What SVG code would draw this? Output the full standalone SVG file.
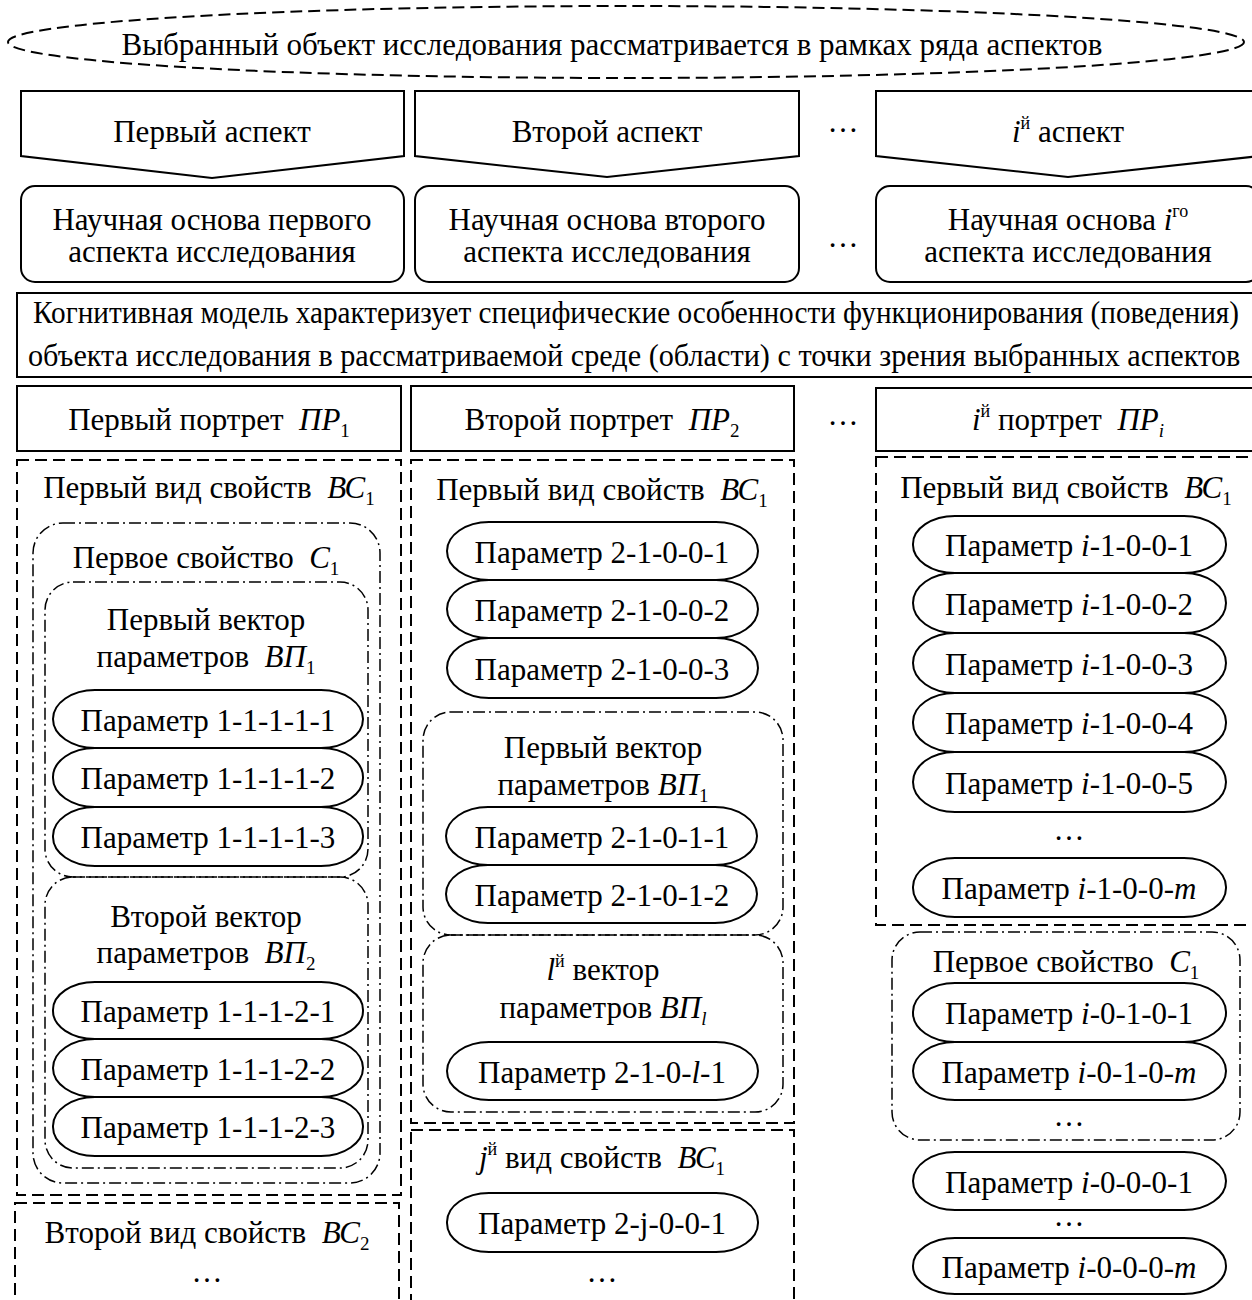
<svg xmlns="http://www.w3.org/2000/svg" width="1252" height="1300" viewBox="0 0 1252 1300">
  <style>
    .t { font-family: "Liberation Serif", "Times New Roman", serif; font-size: 31px; fill: #000; text-anchor: middle; }
    .i { font-style: italic; }
    .sub { font-size: 19px; }
    .sup { font-size: 18px; }
    .solid { fill: #fff; stroke: #000; stroke-width: 2; }
    .dash { fill: none; stroke: #000; stroke-width: 2; stroke-dasharray: 12 6; }
    .dashdot { fill: none; stroke: #000; stroke-width: 1.5; stroke-dasharray: 12 4 2 4; }
    .param { fill: none; stroke: #000; stroke-width: 2; }
  </style>
  <rect width="1252" height="1300" fill="#fff"/>

  <!-- research object -->
  <g id="object">
    <ellipse cx="626" cy="42" rx="618" ry="36" class="dash" stroke-width="1.5" stroke-dasharray="10 6"/>
    <text class="t" x="612" y="55">Выбранный объект исследования рассматривается в рамках ряда аспектов</text>
  </g>

  <!-- aspects -->
  <g id="aspect-1">
    <polygon class="solid" points="21,91 404,91 404,156 212,178 21,156"/>
    <text class="t" x="212" y="142">Первый аспект</text>
  </g>
  <g id="aspect-2">
    <polygon class="solid" points="415,91 799,91 799,156 607,177 415,156"/>
    <text class="t" x="607" y="142">Второй аспект</text>
  </g>
  <g id="aspect-dots"><text class="t" x="843" y="132">…</text></g>
  <g id="aspect-i">
    <polygon class="solid" points="876,91 1260,91 1260,156 1068,177 876,156"/>
    <text class="t" x="1068" y="142"><tspan class="i">i</tspan><tspan class="sup" dy="-13">й</tspan><tspan dy="13"> аспект</tspan></text>
  </g>

  <!-- scientific bases -->
  <g id="base-1">
    <rect class="solid" x="21" y="186" width="383" height="96" rx="14"/>
    <text class="t" x="212" y="230">Научная основа первого</text>
    <text class="t" x="212" y="262">аспекта исследования</text>
  </g>
  <g id="base-2">
    <rect class="solid" x="415" y="186" width="384" height="96" rx="14"/>
    <text class="t" x="607" y="230">Научная основа второго</text>
    <text class="t" x="607" y="262">аспекта исследования</text>
  </g>
  <g id="base-dots"><text class="t" x="843" y="247">…</text></g>
  <g id="base-i">
    <rect class="solid" x="876" y="186" width="384" height="96" rx="14"/>
    <text class="t" x="1068" y="230">Научная основа <tspan class="i">i</tspan><tspan class="sup" dy="-13">го</tspan></text>
    <text class="t" x="1068" y="262">аспекта исследования</text>
  </g>

  <!-- cognitive model: condensed two-line caption -->
  <g id="cognitive-model">
    <rect class="solid" x="17" y="293" width="1250" height="84"/>
    <text class="t" transform="translate(33 323) scale(0.9 1)" x="0" y="0" style="text-anchor:start" textLength="1340" lengthAdjust="spacingAndGlyphs">Когнитивная модель характеризует специфические особенности функционирования (поведения)</text>
    <text class="t" transform="translate(28 366) scale(0.9 1)" x="0" y="0" style="text-anchor:start" textLength="1347" lengthAdjust="spacingAndGlyphs">объекта исследования в рассматриваемой среде (области) с точки зрения выбранных аспектов</text>
  </g>

  <!-- portraits -->
  <g id="portrait-1">
    <rect class="solid" x="17" y="386" width="384" height="65"/>
    <text class="t" x="209" y="430">Первый портрет&#160; <tspan class="i">ПР</tspan><tspan class="sub" dy="7">1</tspan></text>
  </g>
  <g id="portrait-2">
    <rect class="solid" x="411" y="386" width="383" height="65"/>
    <text class="t" x="602" y="430">Второй портрет&#160; <tspan class="i">ПР</tspan><tspan class="sub" dy="7">2</tspan></text>
  </g>
  <g id="portrait-dots"><text class="t" x="843" y="425">…</text></g>
  <g id="portrait-i">
    <rect class="solid" x="876" y="388" width="384" height="63"/>
    <text class="t" x="1068" y="430"><tspan class="i">i</tspan><tspan class="sup" dy="-13">й</tspan><tspan dy="13"> портрет&#160; </tspan><tspan class="i">ПР</tspan><tspan class="sub i" dy="7">i</tspan></text>
  </g>

  <!-- column 1 -->
  <g id="c1-kind-1">
    <rect class="dash" x="17" y="460" width="384" height="735"/>
    <text class="t" x="209" y="498">Первый вид свойств&#160; <tspan class="i">ВС</tspan><tspan class="sub" dy="7">1</tspan></text>
  </g>
  <g id="c1-property-1">
    <rect class="dashdot" x="33" y="523" width="347" height="660" rx="30"/>
    <text class="t" x="206" y="568">Первое свойство&#160; <tspan class="i">С</tspan><tspan class="sub" dy="7">1</tspan></text>
  </g>
  <g id="c1-vector-1">
    <rect class="dashdot" x="45" y="582" width="323" height="295" rx="28"/>
    <text class="t" x="206" y="630">Первый вектор</text>
    <text class="t" x="206" y="667">параметров&#160; <tspan class="i">ВП</tspan><tspan class="sub" dy="7">1</tspan></text>
  </g>
  <g id="p-1-1-1-1-1"><rect class="param" x="53" y="690" width="310" height="58" rx="42" ry="29"/><text class="t" x="208" y="731">Параметр 1-1-1-1-1</text></g>
  <g id="p-1-1-1-1-2"><rect class="param" x="53" y="748" width="310" height="59" rx="42" ry="29"/><text class="t" x="208" y="789">Параметр 1-1-1-1-2</text></g>
  <g id="p-1-1-1-1-3"><rect class="param" x="53" y="807" width="310" height="59" rx="42" ry="29"/><text class="t" x="208" y="848">Параметр 1-1-1-1-3</text></g>
  <g id="c1-vector-2">
    <rect class="dashdot" x="45" y="877" width="323" height="291" rx="28"/>
    <text class="t" x="206" y="927">Второй вектор</text>
    <text class="t" x="206" y="963">параметров&#160; <tspan class="i">ВП</tspan><tspan class="sub" dy="7">2</tspan></text>
  </g>
  <g id="p-1-1-1-2-1"><rect class="param" x="53" y="982" width="310" height="57" rx="42" ry="28"/><text class="t" x="208" y="1022">Параметр 1-1-1-2-1</text></g>
  <g id="p-1-1-1-2-2"><rect class="param" x="53" y="1039" width="310" height="58" rx="42" ry="29"/><text class="t" x="208" y="1080">Параметр 1-1-1-2-2</text></g>
  <g id="p-1-1-1-2-3"><rect class="param" x="53" y="1097" width="310" height="59" rx="42" ry="29"/><text class="t" x="208" y="1138">Параметр 1-1-1-2-3</text></g>
  <g id="c1-kind-2">
    <rect class="dash" x="15" y="1203" width="384" height="130"/>
    <text class="t" x="207" y="1243">Второй вид свойств&#160; <tspan class="i">ВС</tspan><tspan class="sub" dy="7">2</tspan></text>
    <text class="t" x="207" y="1282">…</text>
  </g>

  <!-- column 2 -->
  <g id="c2-kind-1">
    <rect class="dash" x="411" y="460" width="383" height="663"/>
    <text class="t" x="602" y="500">Первый вид свойств&#160; <tspan class="i">ВС</tspan><tspan class="sub" dy="7">1</tspan></text>
  </g>
  <g id="p-2-1-0-0-1"><rect class="param" x="447" y="522" width="311" height="58" rx="42" ry="29"/><text class="t" x="602" y="563">Параметр 2-1-0-0-1</text></g>
  <g id="p-2-1-0-0-2"><rect class="param" x="447" y="580" width="311" height="58" rx="42" ry="29"/><text class="t" x="602" y="621">Параметр 2-1-0-0-2</text></g>
  <g id="p-2-1-0-0-3"><rect class="param" x="447" y="638" width="311" height="60" rx="42" ry="30"/><text class="t" x="602" y="680">Параметр 2-1-0-0-3</text></g>
  <g id="c2-vector-1">
    <rect class="dashdot" x="423" y="712" width="360" height="223" rx="28"/>
    <text class="t" x="603" y="758">Первый вектор</text>
    <text class="t" x="603" y="795">параметров <tspan class="i">ВП</tspan><tspan class="sub" dy="7">1</tspan></text>
  </g>
  <g id="p-2-1-0-1-1"><rect class="param" x="446" y="807" width="311" height="58" rx="42" ry="29"/><text class="t" x="602" y="848">Параметр 2-1-0-1-1</text></g>
  <g id="p-2-1-0-1-2"><rect class="param" x="446" y="865" width="311" height="58" rx="42" ry="29"/><text class="t" x="602" y="906">Параметр 2-1-0-1-2</text></g>
  <g id="c2-vector-l">
    <rect class="dashdot" x="423" y="935" width="360" height="177" rx="28"/>
    <text class="t" x="603" y="980"><tspan class="i">l</tspan><tspan class="sup" dy="-13">й</tspan><tspan dy="13"> вектор</tspan></text>
    <text class="t" x="603" y="1018">параметров <tspan class="i">ВП</tspan><tspan class="sub i" dy="7">l</tspan></text>
  </g>
  <g id="p-2-1-0-l-1"><rect class="param" x="447" y="1042" width="311" height="58" rx="42" ry="29"/><text class="t" x="602" y="1083">Параметр 2-1-0-<tspan class="i">l</tspan>-1</text></g>
  <g id="c2-kind-j">
    <rect class="dash" x="411" y="1130" width="383" height="200"/>
    <text class="t" x="602" y="1168"><tspan class="i">j</tspan><tspan class="sup" dy="-13">й</tspan><tspan dy="13"> вид свойств&#160; </tspan><tspan class="i">ВС</tspan><tspan class="sub" dy="7">1</tspan></text>
  </g>
  <g id="p-2-j-0-0-1"><rect class="param" x="447" y="1193" width="311" height="59" rx="42" ry="29"/><text class="t" x="602" y="1234">Параметр 2-j-0-0-1</text></g>
  <g id="c2-dots"><text class="t" x="602" y="1282">…</text></g>

  <!-- column i -->
  <g id="ci-kind-1">
    <rect class="dash" x="876" y="457" width="392" height="468"/>
    <text class="t" x="1066" y="498">Первый вид свойств&#160; <tspan class="i">ВС</tspan><tspan class="sub" dy="7">1</tspan></text>
  </g>
  <g id="p-i-1-0-0-1"><rect class="param" x="913" y="516" width="313" height="57" rx="42" ry="28"/><text class="t" x="1069" y="556">Параметр <tspan class="i">i</tspan>-1-0-0-1</text></g>
  <g id="p-i-1-0-0-2"><rect class="param" x="913" y="573" width="313" height="60" rx="42" ry="30"/><text class="t" x="1069" y="615">Параметр <tspan class="i">i</tspan>-1-0-0-2</text></g>
  <g id="p-i-1-0-0-3"><rect class="param" x="913" y="633" width="313" height="60" rx="42" ry="30"/><text class="t" x="1069" y="675">Параметр <tspan class="i">i</tspan>-1-0-0-3</text></g>
  <g id="p-i-1-0-0-4"><rect class="param" x="913" y="693" width="313" height="59" rx="42" ry="29"/><text class="t" x="1069" y="734">Параметр <tspan class="i">i</tspan>-1-0-0-4</text></g>
  <g id="p-i-1-0-0-5"><rect class="param" x="913" y="752" width="313" height="60" rx="42" ry="30"/><text class="t" x="1069" y="794">Параметр <tspan class="i">i</tspan>-1-0-0-5</text></g>
  <g id="ci-dots-1"><text class="t" x="1069" y="840">…</text></g>
  <g id="p-i-1-0-0-m"><rect class="param" x="913" y="858" width="313" height="59" rx="42" ry="29"/><text class="t" x="1069" y="899">Параметр <tspan class="i">i</tspan>-1-0-0-<tspan class="i">m</tspan></text></g>
  <g id="ci-property-1">
    <rect class="dashdot" x="892" y="932" width="348" height="208" rx="28"/>
    <text class="t" x="1066" y="972">Первое свойство&#160; <tspan class="i">С</tspan><tspan class="sub" dy="7">1</tspan></text>
    <text class="t" x="1069" y="1126">…</text>
  </g>
  <g id="p-i-0-1-0-1"><rect class="param" x="913" y="983" width="313" height="59" rx="42" ry="29"/><text class="t" x="1069" y="1024">Параметр <tspan class="i">i</tspan>-0-1-0-1</text></g>
  <g id="p-i-0-1-0-m"><rect class="param" x="913" y="1042" width="313" height="58" rx="42" ry="29"/><text class="t" x="1069" y="1083">Параметр <tspan class="i">i</tspan>-0-1-0-<tspan class="i">m</tspan></text></g>
  <g id="p-i-0-0-0-1"><rect class="param" x="913" y="1152" width="313" height="58" rx="42" ry="29"/><text class="t" x="1069" y="1193">Параметр <tspan class="i">i</tspan>-0-0-0-1</text></g>
  <g id="ci-dots-2"><text class="t" x="1069" y="1226">…</text></g>
  <g id="p-i-0-0-0-m"><rect class="param" x="913" y="1238" width="313" height="56" rx="42" ry="28"/><text class="t" x="1069" y="1278">Параметр <tspan class="i">i</tspan>-0-0-0-<tspan class="i">m</tspan></text></g>
</svg>
